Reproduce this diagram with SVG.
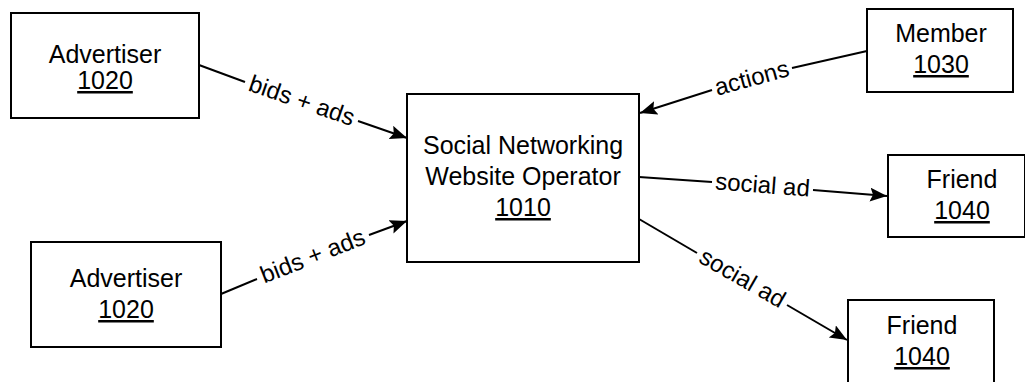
<svg xmlns="http://www.w3.org/2000/svg" width="1025" height="382" viewBox="0 0 1025 382">
<style>
.box{fill:#fff;stroke:#000;stroke-width:2}
.t{font-family:"Liberation Sans",Arial,sans-serif;font-size:25px;fill:#000;text-anchor:middle}
.u{text-decoration:underline}
.lbl{font-family:"Liberation Sans",Arial,sans-serif;font-size:24px;fill:#000;text-anchor:middle}
.c{stroke:#000;stroke-width:2;fill:none}
</style>
<defs>
<marker id="arr" markerUnits="userSpaceOnUse" markerWidth="20" markerHeight="16" refX="17" refY="7" orient="auto">
<path d="M0,0 L17,7 L0,14 L3,7 z" fill="#000"/>
</marker>
</defs>
<rect width="1025" height="382" fill="#fff"/>
<g id="connectors">
<line class="c" x1="199" y1="65" x2="245" y2="82"/>
<line class="c" x1="358" y1="121" x2="407" y2="138" marker-end="url(#arr)"/>
<text class="lbl" transform="translate(301.5,101.5) rotate(19)" y="7">bids + ads</text>
<line class="c" x1="221" y1="294" x2="257" y2="279"/>
<line class="c" x1="369" y1="235" x2="407" y2="221" marker-end="url(#arr)"/>
<text class="lbl" transform="translate(313,257) rotate(-21.4)" y="7">bids + ads</text>
<line class="c" x1="867" y1="51" x2="792" y2="68"/>
<line class="c" x1="712" y1="90" x2="640" y2="113" marker-end="url(#arr)"/>
<text class="lbl" transform="translate(752,79) rotate(-15.4)" y="7">actions</text>
<line class="c" x1="639" y1="177" x2="712" y2="182"/>
<line class="c" x1="813" y1="190" x2="887" y2="196" marker-end="url(#arr)"/>
<text class="lbl" transform="translate(762.5,186) rotate(4.4)" y="7">social ad</text>
<line class="c" x1="639" y1="219" x2="697" y2="253"/>
<line class="c" x1="787" y1="305" x2="847" y2="340" marker-end="url(#arr)"/>
<text class="lbl" transform="translate(742,279) rotate(29.8)" y="7">social ad</text>
</g>
<g id="advertiser-top">
<rect class="box" x="11" y="13" width="188" height="105"/>
<text class="t" x="105" y="63">Advertiser</text>
<text class="t u" x="105" y="89">1020</text>
</g>
<g id="advertiser-bottom">
<rect class="box" x="31" y="242" width="190" height="105"/>
<text class="t" x="126" y="287">Advertiser</text>
<text class="t u" x="126" y="318">1020</text>
</g>
<g id="operator">
<rect class="box" x="407" y="94" width="232" height="168"/>
<text class="t" x="523" y="154">Social Networking</text>
<text class="t" x="523" y="185">Website Operator</text>
<text class="t u" x="523" y="216">1010</text>
</g>
<g id="member">
<rect class="box" x="867" y="9" width="146" height="83"/>
<text class="t" x="941" y="42">Member</text>
<text class="t u" x="941" y="73">1030</text>
</g>
<g id="friend-top">
<rect class="box" x="888" y="155" width="137" height="82"/>
<text class="t" x="962" y="188">Friend</text>
<text class="t u" x="962" y="219">1040</text>
</g>
<g id="friend-bottom">
<rect class="box" x="848" y="300" width="146" height="90"/>
<text class="t" x="922" y="334">Friend</text>
<text class="t u" x="922" y="365">1040</text>
</g>
</svg>
